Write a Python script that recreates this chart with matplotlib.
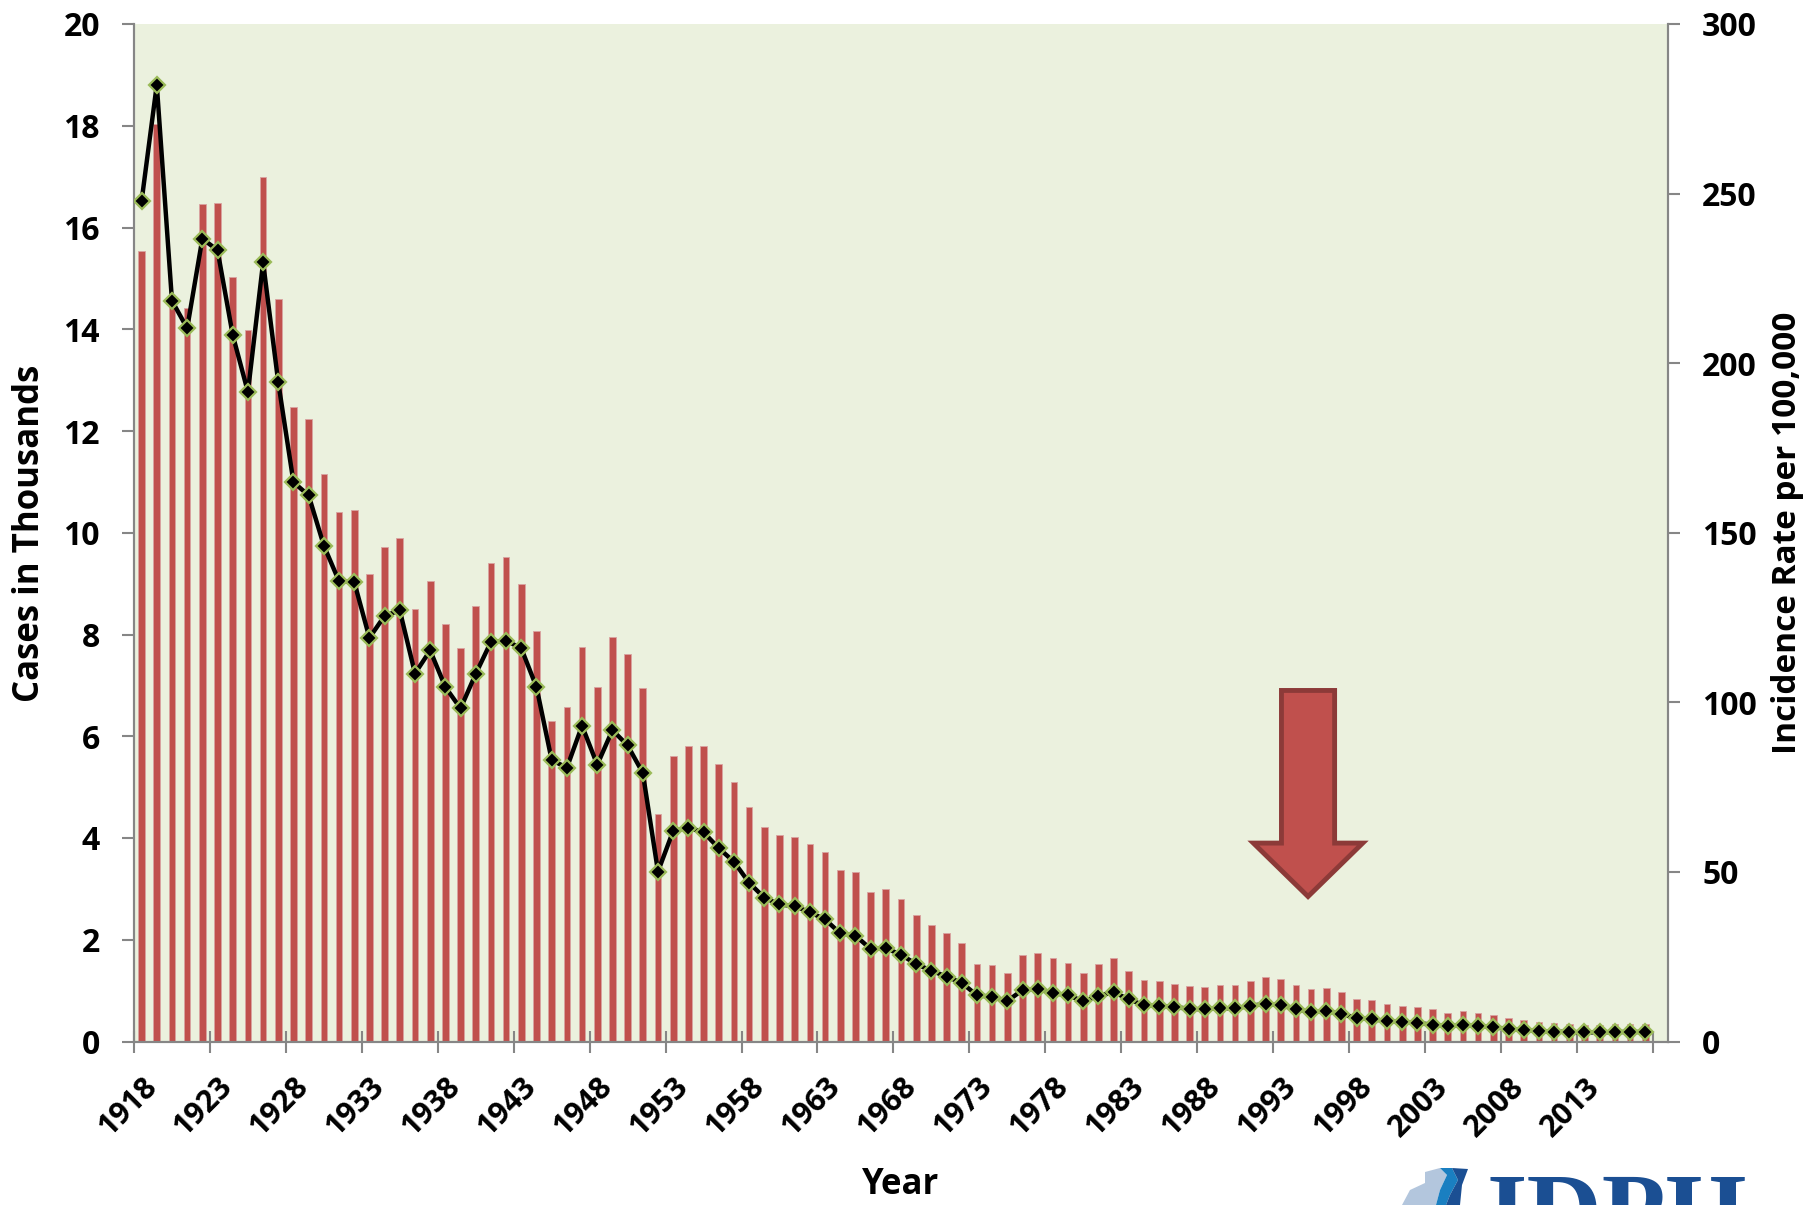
import matplotlib
matplotlib.use('Agg')
import matplotlib.pyplot as plt
from matplotlib.patches import Polygon
import numpy as np

plt.rcParams['font.family'] = ['Open Sans', 'DejaVu Sans']
plt.rcParams['font.weight'] = 'bold'

# ---------------- data ----------------
years = list(range(1918, 2018))

cases_thousands = [
    15.54, 18.03, 14.47, 14.41, 16.46, 16.49, 15.02, 13.99, 16.99, 14.60,   # 1918-1927
    12.48, 12.24, 11.16, 10.41, 10.45, 9.19, 9.72, 9.90, 8.50, 9.05,        # 1928-1937
    8.21, 7.74, 8.56, 9.40, 9.52, 8.99, 8.06, 6.30, 6.57, 7.76,             # 1938-1947
    6.97, 7.95, 7.62, 6.94, 4.47, 5.61, 5.81, 5.81, 5.45, 5.11,             # 1948-1957
    4.61, 4.21, 4.06, 4.01, 3.89, 3.73, 3.37, 3.33, 2.93, 2.99,             # 1958-1967
    2.80, 2.48, 2.29, 2.13, 1.94, 1.52, 1.50, 1.34, 1.71, 1.73,             # 1968-1977
    1.64, 1.54, 1.35, 1.52, 1.65, 1.39, 1.21, 1.19, 1.14, 1.09,             # 1978-1987
    1.08, 1.11, 1.12, 1.19, 1.27, 1.23, 1.11, 1.03, 1.06, 0.97,             # 1988-1997
    0.84, 0.82, 0.74, 0.70, 0.68, 0.63, 0.57, 0.59, 0.57, 0.52,             # 1998-2007
    0.46, 0.42, 0.38, 0.36, 0.35, 0.32, 0.32, 0.34, 0.34, 0.34,             # 2008-2017
]

incidence_rate = [
    247.8, 282.1, 218.4, 210.3, 236.7, 233.3, 208.3, 191.5, 229.7, 194.3,   # 1918-1927
    164.9, 161.0, 146.2, 135.7, 135.5, 119.0, 125.5, 127.1, 108.5, 115.3,   # 1928-1937
    104.5, 98.2, 108.4, 117.8, 118.2, 115.9, 104.5, 83.0, 80.7, 93.1,       # 1938-1947
    81.6, 91.8, 87.3, 79.2, 50.1, 62.1, 63.0, 61.7, 57.0, 53.0,             # 1948-1957
    46.8, 42.4, 40.4, 39.9, 38.1, 36.0, 31.9, 31.2, 27.3, 27.5,             # 1958-1967
    25.6, 22.8, 20.9, 19.1, 17.3, 13.6, 13.2, 11.9, 15.2, 15.4,             # 1968-1977
    14.3, 13.6, 11.9, 13.4, 14.6, 12.4, 10.7, 10.5, 10.2, 9.6,              # 1978-1987
    9.5, 9.8, 9.8, 10.5, 11.1, 10.7, 9.5, 8.6, 9.0, 8.1,                    # 1988-1997
    6.9, 6.6, 6.0, 5.8, 5.5, 4.9, 4.6, 4.8, 4.6, 4.2,                       # 1998-2007
    3.7, 3.4, 3.0, 2.9, 2.8, 2.7, 2.7, 2.8, 2.8, 2.8,                       # 2008-2017
]

left_ticks = [0, 2, 4, 6, 8, 10, 12, 14, 16, 18, 20]
right_ticks = [0, 50, 100, 150, 200, 250, 300]
xlabel_years = [str(y) for y in years[::5]]

# ---------------- figure ----------------
W, H = 1811, 1205
fig = plt.figure(figsize=(W / 100, H / 100), dpi=100)
L, R, T, B = 134, 1668, 24, 1041.5
ax = fig.add_axes([L / W, 1 - B / H, (R - L) / W, (B - T) / H])
ax.set_facecolor('#EBF1DE')

x = np.arange(len(years))
ax.bar(x, cases_thousands, width=0.44, color='#C0504D',
       edgecolor='#D9A3A1', linewidth=0.6, zorder=2)

ncat = len(years) + 1  # one empty trailing category
ax.set_xlim(-0.5, ncat - 0.5)
ax.set_ylim(0, 20)
ax.set_yticks(left_ticks)
ax.set_yticklabels([str(v) for v in left_ticks])

ax.set_xticks(np.arange(-0.5, ncat, 5))
ax.set_xticklabels([])
ax.set_xticks(x[::5], minor=True)
ax.set_xticklabels(xlabel_years, minor=True)

grey = '#868686'
ax.tick_params(axis='y', direction='out', length=8.6, width=1.5, color=grey,
               pad=16, labelsize=23)
ax.tick_params(axis='x', which='major', direction='inout', length=16,
               width=1.5, color=grey)
ax.tick_params(axis='x', which='minor', length=0, pad=22, labelsize=22)
for lab in ax.get_xticklabels(minor=True):
    lab.set_rotation(45)
    lab.set_ha('right')
    lab.set_va('top')
    lab.set_rotation_mode('anchor')

for s in ['left', 'right', 'bottom']:
    ax.spines[s].set_color(grey)
    ax.spines[s].set_linewidth(1.5)
ax.spines['top'].set_visible(False)

ax2 = ax.twinx()
ax2.plot(x, incidence_rate, color='black', lw=3.2, marker='D', markersize=8.5,
         markerfacecolor='black', markeredgecolor='#9BBB59',
         markeredgewidth=1.6, zorder=3)
ax2.set_ylim(0, 300)
ax2.set_yticks(right_ticks)
ax2.set_yticklabels([str(v) for v in right_ticks])
ax2.tick_params(axis='y', direction='out', length=8.6, width=1.5, color=grey,
                pad=16, labelsize=23)
for s in ['left', 'right', 'bottom']:
    ax2.spines[s].set_color(grey)
    ax2.spines[s].set_linewidth(1.5)
ax2.spines['top'].set_visible(False)

# arrow annotation (in category / thousands coordinates)
cx = 76.8
arrow = Polygon([(cx - 1.75, 6.9), (cx + 1.75, 6.9), (cx + 1.75, 3.9),
                 (cx + 3.6, 3.9), (cx, 2.85), (cx - 3.6, 3.9), (cx - 1.75, 3.9)],
                closed=True, facecolor='#C0504D', edgecolor='#8C3A38',
                linewidth=3.5, joinstyle='miter', zorder=5)
ax.add_patch(arrow)

# axis titles
fig.text(30 / W, 1 - 533 / H, 'Cases in Thousands', rotation=90,
         ha='center', va='center', fontsize=25)
fig.text(1788 / W, 1 - 533 / H, 'Incidence Rate per 100,000', rotation=90,
         ha='center', va='center', fontsize=24)
fig.text(901 / W, 1 - 1194 / H, 'Year', ha='center', va='baseline', fontsize=25)

# partial IDPH logo at the bottom-right edge
def fpts(pts):
    return [(px / W, 1 - py / H) for px, py in pts]

fig.patches.append(Polygon(fpts([(1402, 1205), (1410, 1190), (1425, 1183), (1425, 1172),
                                 (1440, 1168), (1447, 1175), (1440, 1190), (1436, 1205)]),
                           closed=True, transform=fig.transFigure, facecolor='#B3C6DD',
                           edgecolor='none'))
fig.patches.append(Polygon(fpts([(1436, 1205), (1440, 1190), (1447, 1175), (1440, 1168),
                                 (1452, 1168), (1458, 1180), (1450, 1195), (1446, 1205)]),
                           closed=True, transform=fig.transFigure, facecolor='#1A7FC1',
                           edgecolor='none'))
fig.patches.append(Polygon(fpts([(1446, 1205), (1450, 1195), (1458, 1180), (1452, 1168),
                                 (1468, 1169), (1462, 1185), (1460, 1205)]),
                           closed=True, transform=fig.transFigure, facecolor='#1B4F93',
                           edgecolor='none'))
fig.text(1486 / W, 1 - 1245 / H, 'IDPH', ha='left', va='baseline', fontsize=75,
         family=['Liberation Serif', 'DejaVu Serif'], color='#1B4F93')

fig.savefig('out.png', dpi=100, facecolor='white')
